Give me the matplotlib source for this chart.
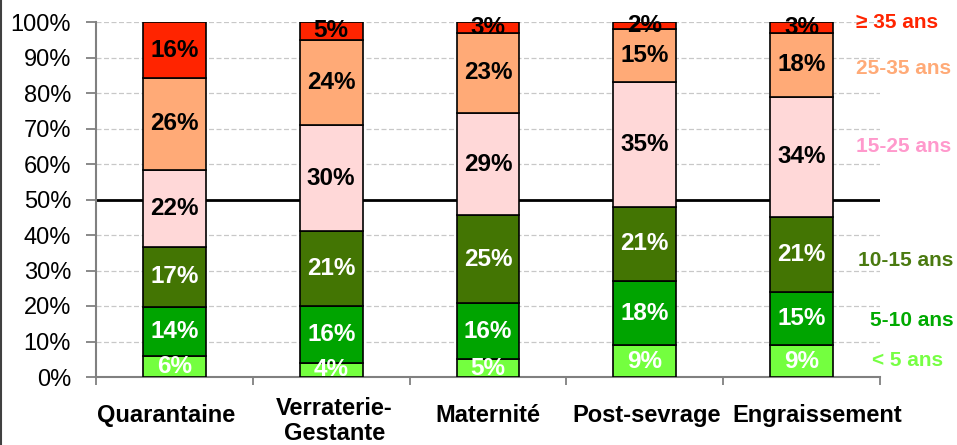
import matplotlib
matplotlib.use("Agg")
import matplotlib.pyplot as plt
from matplotlib.transforms import offset_copy
import numpy as np

categories = ["Quarantaine", "Verraterie-\nGestante", "Maternité", "Post-sevrage", "Engraissement"]
series_names = ["< 5 ans", "5-10 ans", "10-15 ans", "15-25 ans", "25-35 ans", "≥ 35 ans"]
lt5 = [6, 4, 5, 9, 9]
a5_10 = [14, 16, 16, 18, 15]
a10_15 = [17, 21, 25, 21, 21]
a15_25 = [22, 30, 29, 35, 34]
a25_35 = [26, 24, 23, 15, 18]
ge35 = [16, 5, 3, 2, 3]
yticks = [0, 10, 20, 30, 40, 50, 60, 70, 80, 90, 100]

series = [lt5, a5_10, a10_15, a15_25, a25_35, ge35]
fill_colors = ["#74FF3F", "#00A400", "#437503", "#FFD8D8", "#FFAA77", "#FF2400"]
text_colors = ["white", "white", "white", "black", "black", "black"]
legend_colors = ["#77FF44", "#00AA00", "#4A7A10", "#FF99CC", "#FFAA77", "#FF2400"]

plt.rcParams['font.family'] = ['Liberation Sans', 'DejaVu Sans']

W, H = 957, 445
fig = plt.figure(figsize=(W / 100, H / 100), dpi=100)
ax = fig.add_axes([96 / W, 1 - 377 / H, (880 - 96) / W, (377 - 22) / H])

data = np.array(series, dtype=float)
totals = data.sum(axis=0)
pct = data / totals * 100
x = np.arange(len(categories))
bottom = np.zeros(len(categories))
for i in range(len(series)):
    ax.bar(x, pct[i], 0.4, bottom=bottom, color=fill_colors[i],
           edgecolor="black", linewidth=1.2, zorder=3)
    for j in range(len(categories)):
        ax.text(x[j], bottom[j] + pct[i][j] / 2, f"{series[i][j]}%",
                ha="center", va="center", fontsize=17.5, fontweight="bold",
                color=text_colors[i], zorder=4)
    bottom += pct[i]

ax.set_xlim(-0.5, len(categories) - 0.5)
ax.set_ylim(0, 100)
ax.set_yticks(yticks)
ax.set_yticklabels([f"{v}%" for v in yticks], fontsize=17)
for v in yticks[1:]:
    if v == 50:
        ax.axhline(v, color="black", linewidth=2, zorder=2)
    else:
        ax.axhline(v, color="#C8C8C8", linewidth=0.9, linestyle=(0, (4, 2)), zorder=1)

ax.set_xticks(np.arange(-0.5, len(categories), 1.0))
ax.set_xticklabels([])
ax.tick_params(axis="x", which="major", length=6, width=1.3, color="#808080")
ax.tick_params(axis="y", length=7, width=1.3, color="#808080", pad=11)

# category labels (Excel-like placement)
x_shift = [-0.05, 0.02, 0.0, 0.01, 0.10]
trans = ax.get_xaxis_transform()
for j, lab in enumerate(categories):
    off = 63 if "\n" in lab else 44.7
    t = offset_copy(trans, fig=fig, x=0, y=-off * 72 / 100, units="points")
    ax.text(x[j] + x_shift[j], 0, lab, transform=t, ha="center", va="baseline",
            fontsize=17, fontweight="bold", linespacing=1.12, clip_on=False)

for s in ["top", "right"]:
    ax.spines[s].set_visible(False)
for s in ["left", "bottom"]:
    ax.spines[s].set_color("#808080")
    ax.spines[s].set_linewidth(1.5)

legend_pos = [(872, 360), (870, 320), (858, 260), (856, 147), (856, 68), (856, 22)]
for name, col, (px, py) in zip(series_names, legend_colors, legend_pos):
    fig.text(px / W, 1 - py / H, name, color=col, fontsize=15,
             fontweight="bold", ha="left", va="center")

fig.add_artist(plt.Line2D([0.7 / W, 0.7 / W], [0, 1], color="#404040",
                          linewidth=1.5, transform=fig.transFigure))

fig.savefig("out.png", dpi=100)
